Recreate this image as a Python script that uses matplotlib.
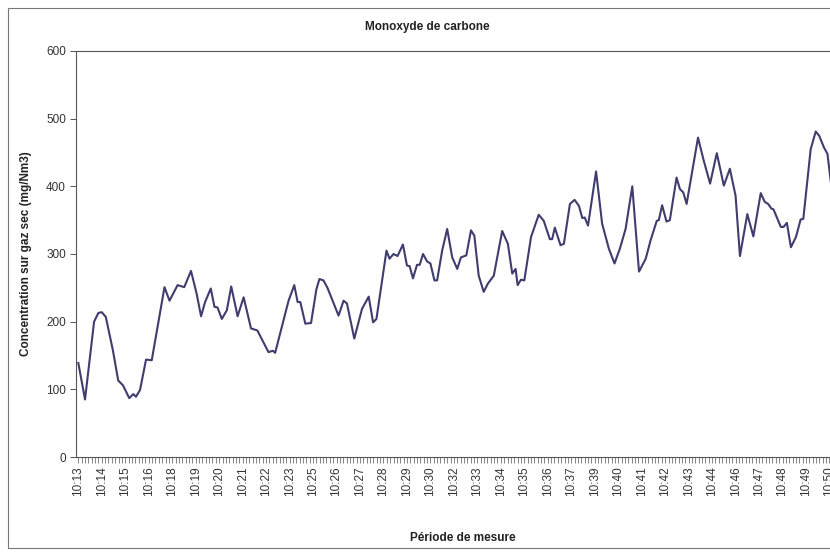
import datetime as dt
import matplotlib
matplotlib.use("Agg")
import matplotlib.pyplot as plt
from matplotlib.patches import Rectangle

plt.rcParams['font.family'] = ['Liberation Sans', 'DejaVu Sans']

# Mesures CO : position de l'échantillon (pas de 10 s depuis 10:13:20) et concentration
t_idx = [0, 2.0, 3.3, 4.7, 6.0, 7.0, 8.2, 10.3, 11.9, 13.3, 15.2, 16.4, 17.2, 18.4, 20.2, 21.9,
         25.7, 27.2, 29.6, 31.6, 33.6, 35.3, 36.6, 37.8, 39.5, 40.6, 41.5,
         42.8, 44.3, 45.6, 47.5, 49.3, 51.5, 53.4, 56.7, 58.0, 58.7, 62.7,
         64.4, 65.4, 66.2, 67.7, 69.4, 71.0, 71.9, 73.1, 74.3, 77.6, 79.1, 80.1, 82.3,
         84.6, 86.6, 87.9, 88.9, 91.9, 92.8, 94.0, 95.2, 96.8, 98.0, 98.8,
         99.8, 101.0, 101.8, 102.8, 104.0, 105.0, 106.2, 107.0, 108.5, 110.0,
         111.5, 113.0, 114.1, 115.7, 117.1, 118.1, 119.4, 120.9, 122.1, 123.9,
         126.4, 128.1, 129.4, 130.4, 131.0, 132.0, 133.0, 135.0, 137.3, 138.8,
         140.6, 141.3, 142.1, 143.8, 144.8, 146.6, 148.0, 149.3, 150.3, 151.0,
         152.0, 154.4, 156.2, 158.2, 159.9, 161.5, 163.2, 165.2, 167.2, 169.2,
         170.7, 172.5, 173.1, 174.1, 175.4, 176.4, 178.4, 179.4, 180.4, 181.4,
         184.8, 186.4, 188.4, 190.4, 192.5, 194.3, 196.0, 197.3, 199.5, 201.3,
         203.5, 204.7, 205.7, 206.7, 207.3, 209.5, 210.3, 211.3, 212.5, 214.0,
         215.4, 216.2, 218.4, 219.9, 220.9, 222.4, 223.4, 224.4, 225.5]
co = [139, 85, 140, 200, 213, 214, 207, 158, 113, 106, 87, 93, 89, 99, 144, 143,
      251, 231, 254, 251, 275, 241, 208, 229, 249, 222, 221,
      204, 217, 252, 208, 236, 190, 187, 155, 157, 154, 231,
      254, 229, 229, 197, 198, 248, 263, 261, 250, 209, 231, 227, 175,
      219, 237, 199, 204, 305, 293, 300, 297, 314, 283, 282,
      264, 284, 284, 300, 289, 286, 261, 261, 305, 337,
      295, 278, 295, 298, 335, 327, 268, 244, 256, 268,
      334, 315, 271, 278, 254, 262, 261, 325, 358, 349,
      322, 322, 339, 313, 315, 374, 380, 371, 353, 354,
      342, 422, 345, 308, 286, 308, 337, 400, 274, 293,
      321, 349, 350, 372, 348, 350, 413, 396, 391, 374,
      472, 440, 404, 449, 401, 426, 386, 297, 359, 326,
      390, 377, 374, 367, 366, 340, 340, 346, 310, 325,
      351, 352, 455, 481, 475, 457, 448, 406, 370]

n_samples = 232
start = dt.datetime(2000, 1, 1, 10, 13, 20)
label_idx = list(range(0, n_samples, 7))
labels = [(start + dt.timedelta(seconds=10 * i)).strftime('%H:%M') for i in label_idx]

fig = plt.figure(figsize=(8.3, 5.52), dpi=100)
fig.patches.append(Rectangle((8 / 830, 4 / 552), 1.2, 540 / 552, transform=fig.transFigure,
                             fill=False, edgecolor='#777777', linewidth=0.8))

ax = fig.add_axes([76.3 / 830, 95 / 552, 780 / 830, 406 / 552])
ax.plot(t_idx, co, color='#3f3d6e', linewidth=1.5, solid_joinstyle='round')

ax.set_xlim(-0.6, n_samples)
ax.set_ylim(0, 600)
ax.set_yticks(range(0, 601, 100))
ax.set_xticks(range(n_samples), minor=True)
ax.set_xticks(label_idx)
ax.set_xticklabels(labels, rotation=90, fontsize=8.5, color='#333333')
ax.tick_params(axis='y', labelsize=8.5, labelcolor='#333333', length=4, width=0.7, color='#555555')
ax.tick_params(axis='x', which='both', length=4, width=0.5, color='#555555', pad=3)

for side in ['left', 'bottom', 'top', 'right']:
    ax.spines[side].set_color('#555555')
    ax.spines[side].set_linewidth(0.8)

ax.set_title('Monoxyde de carbone', fontsize=8.5, fontweight='bold', color='#222222', pad=15,
             x=(427 - 76.3) / 780)
ax.set_ylabel('Concentration sur gaz sec (mg/Nm3)', fontsize=8.5, fontweight='bold',
              color='#222222', labelpad=10)
ax.set_xlabel('Période de mesure', fontsize=8.5, fontweight='bold', color='#222222')
ax.xaxis.set_label_coords((463 - 76.3) / 780, -0.185)

fig.savefig('out.png', dpi=100)
